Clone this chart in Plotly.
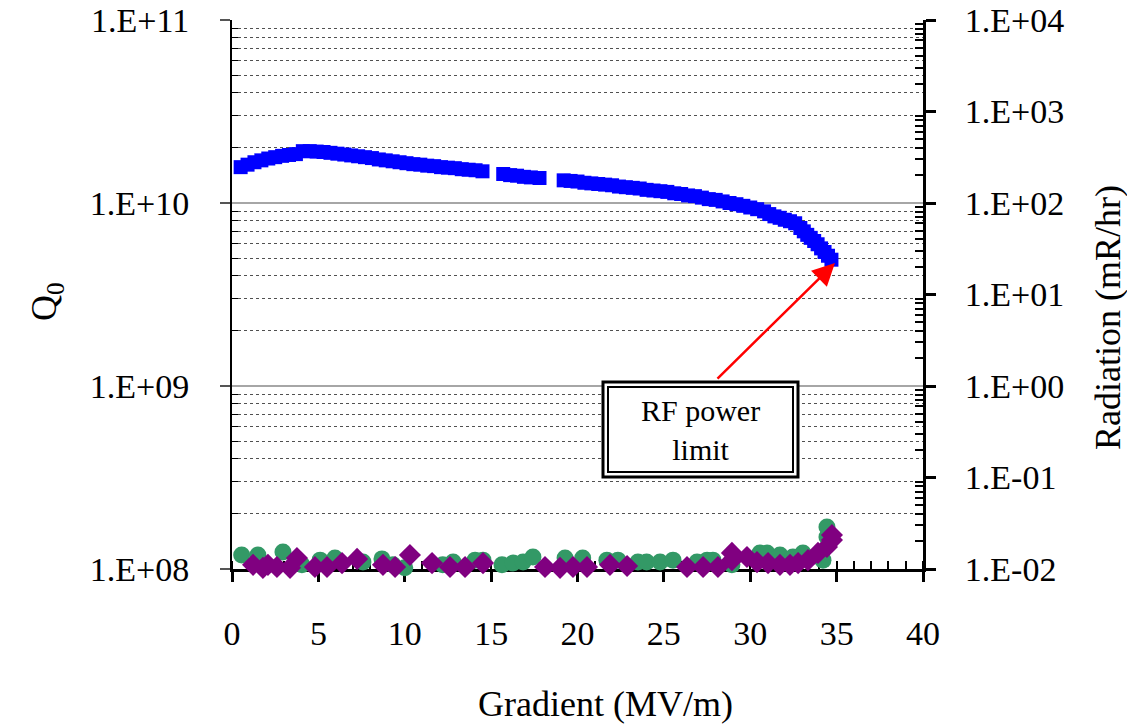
import plotly.graph_objects as go

# ---------------- data ----------------
gradient_q0 = [0.5, 0.9, 1.3, 1.7, 2.1, 2.5, 2.9, 3.3, 3.7, 4.1, 4.5, 4.9, 5.3, 5.7, 6.1, 6.5,
               6.9, 7.3, 7.7, 8.1, 8.5, 8.9, 9.3, 9.7, 10.1, 10.5, 10.9, 11.3, 11.7, 12.1, 12.5,
               12.9, 13.3, 13.7, 14.1, 14.5,
               15.7, 16.1, 16.5, 16.9, 17.3, 17.8,
               19.2, 19.6, 20.0, 20.4, 20.8, 21.2, 21.6, 22.0, 22.4, 22.8, 23.2, 23.6, 24.0,
               24.4, 24.8, 25.2, 25.6, 26.0, 26.4, 26.8, 27.2, 27.6, 28.0, 28.4, 28.8, 29.2,
               29.6, 30.0, 30.4, 30.8, 31.1, 31.4, 31.7, 32.0, 32.3, 32.6, 32.9, 33.1, 33.3,
               33.5, 33.7, 33.9, 34.1, 34.3, 34.5, 34.7]
q0_e10 = [1.57, 1.62, 1.67, 1.71, 1.75, 1.78, 1.81, 1.83, 1.85, 1.92, 1.92, 1.91, 1.90, 1.88,
          1.86, 1.84, 1.82, 1.80, 1.78, 1.76, 1.73, 1.71, 1.69, 1.67, 1.65, 1.63, 1.62, 1.60,
          1.59, 1.57, 1.56, 1.55, 1.53, 1.52, 1.51, 1.49,
          1.44, 1.42, 1.41, 1.39, 1.38, 1.37,
          1.33, 1.32, 1.31, 1.29, 1.28, 1.27, 1.26, 1.25, 1.23, 1.22, 1.21, 1.20, 1.18,
          1.17, 1.16, 1.15, 1.13, 1.12, 1.10, 1.09, 1.07, 1.05, 1.04, 1.02, 1.00, 0.985,
          0.965, 0.945, 0.925, 0.90, 0.87, 0.845, 0.83, 0.81, 0.795, 0.775, 0.73, 0.70, 0.67,
          0.645, 0.62, 0.595, 0.565, 0.54, 0.515, 0.49]

gradient_green = [0.56, 1.5, 2.95, 4.05, 5.1, 5.96, 7.58, 8.68, 9.32, 10.0, 12.2, 12.8, 14.07,
                  14.53, 15.63, 16.27, 16.85, 17.42, 19.28, 20.3, 21.7, 22.34, 23.5, 24.0, 24.78,
                  25.53, 26.92, 27.5, 27.84, 28.94, 30.56, 30.97, 31.72, 32.47, 33.05, 34.21,
                  34.44, 34.44]
rad_green = [0.0142, 0.0142, 0.0153, 0.0111, 0.0125, 0.0132, 0.0119, 0.0129, 0.0111, 0.0103,
             0.0111, 0.0119, 0.0125, 0.0125, 0.0111, 0.0116, 0.0119, 0.0135, 0.0132, 0.0132,
             0.0125, 0.0125, 0.0119, 0.0119, 0.0119, 0.0125, 0.0119, 0.0125, 0.0125, 0.0111,
             0.0150, 0.0150, 0.0142, 0.0135, 0.0150, 0.0125, 0.0224, 0.0288]

gradient_purple = [1.22, 1.79, 2.08, 2.6, 3.36, 3.76, 4.8, 5.5, 6.37, 7.24, 8.74, 9.44, 10.3,
                   11.58, 12.62, 13.49, 14.53, 18.12, 18.99, 19.74, 20.55, 21.88, 22.87, 26.34,
                   27.27, 28.13, 28.94, 28.94, 29.81, 30.39, 31.03, 31.72, 32.3, 32.77, 33.34,
                   33.92, 34.44, 34.73, 34.73]
rad_purple = [0.0111, 0.0103, 0.0111, 0.0105, 0.0103, 0.0132, 0.0105, 0.0105, 0.0116, 0.0129,
              0.0111, 0.0105, 0.0142, 0.0116, 0.0105, 0.0105, 0.0116, 0.0105, 0.0103, 0.0105,
              0.0105, 0.0111, 0.0108, 0.0105, 0.0105, 0.0105, 0.0150, 0.0125, 0.0135, 0.0119,
              0.0116, 0.0111, 0.0111, 0.0116, 0.0125, 0.0150, 0.0174, 0.0207, 0.0235]

q0_ticks = [1e8, 1e9, 1e10, 1e11]
q0_labels = ["1.E+08", "1.E+09", "1.E+10", "1.E+11"]
rad_ticks = [1e-2, 1e-1, 1e0, 1e1, 1e2, 1e3, 1e4]
rad_labels = ["1.E-02", "1.E-01", "1.E+00", "1.E+01", "1.E+02", "1.E+03", "1.E+04"]

# ---------------- layout helpers ----------------
W, H = 1127, 725
ML, MR, MT, MB = 232, 204, 20, 156
PW, PH = W - ML - MR, H - MT - MB


def px_x(X):
    return (X - ML) / PW


def px_y(Y):
    return 1 - (Y - MT) / PH


FONT = "Liberation Serif, Times New Roman, serif"
TICKSIZE = 34
TITLESIZE = 36

q0_values = [v * 1e10 for v in q0_e10]

fig = go.Figure()
fig.add_trace(go.Scatter(x=gradient_q0, y=q0_values, mode="markers", yaxis="y",
                         marker=dict(symbol="square", size=14, color="#0000FF",
                                     line=dict(width=0)),
                         showlegend=False))
fig.add_trace(go.Scatter(x=gradient_green, y=rad_green, mode="markers", yaxis="y2",
                         cliponaxis=False,
                         marker=dict(symbol="circle", size=17, color="#339966",
                                     line=dict(width=0)),
                         showlegend=False))
fig.add_trace(go.Scatter(x=gradient_purple, y=rad_purple, mode="markers", yaxis="y2",
                         cliponaxis=False,
                         marker=dict(symbol="diamond", size=17, color="#800080",
                                     line=dict(width=0)),
                         showlegend=False))

minor_q0 = [m * 10 ** e for e in range(8, 11) for m in range(2, 10)]
minor_rad = [m * 10.0 ** e for e in range(-2, 4) for m in range(2, 10)]

fig.update_layout(
    width=W, height=H,
    margin=dict(l=ML, r=MR, t=MT, b=MB, pad=0, autoexpand=False),
    paper_bgcolor="white", plot_bgcolor="white",
    font=dict(family=FONT, size=TICKSIZE, color="black"),
    xaxis=dict(range=[0, 40], tickmode="linear", tick0=0, dtick=5,
               automargin=False,
               showgrid=False, zeroline=False,
               showline=True, linecolor="black", linewidth=2.5,
               ticks="outside", ticklen=10, tickwidth=2.5, tickcolor="black",
               minor=dict(dtick=1, ticks="inside", ticklen=8, tickwidth=2, tickcolor="black"),
               ticklabelstandoff=22,
               tickfont=dict(family=FONT, size=TICKSIZE, color="black"),
               layer="below traces"),
    yaxis=dict(type="log", range=[8, 11], tickmode="array",
               tickvals=q0_ticks, ticktext=q0_labels,
               automargin=False,
               showgrid=True, gridcolor="#a6a6a6", gridwidth=2,
               zeroline=False,
               showline=True, linecolor="black", linewidth=2,
               ticks="outside", ticklen=10, tickwidth=2, tickcolor="#555555",
               minor=dict(tickmode="array", tickvals=minor_q0, ticks="inside",
                          ticklen=6, tickwidth=1, tickcolor="black",
                          showgrid=True, gridcolor="#505050", griddash="dot", gridwidth=1),
               ticklabelstandoff=24,
               tickfont=dict(family=FONT, size=TICKSIZE, color="black"),
               layer="below traces"),
    yaxis2=dict(type="log", range=[-2, 4], overlaying="y", side="right",
                tickmode="array", tickvals=rad_ticks, ticktext=rad_labels,
                automargin=False,
                showgrid=False, zeroline=False,
                showline=True, linecolor="black", linewidth=3,
                ticks="outside", ticklen=10, tickwidth=2.5, tickcolor="black",
                minor=dict(tickmode="array", tickvals=minor_rad, ticks="inside",
                           ticklen=8, tickwidth=2, tickcolor="black", showgrid=False),
                ticklabelstandoff=22,
                tickfont=dict(family=FONT, size=TICKSIZE, color="black"),
                layer="below traces"),
)

# axis titles
fig.add_annotation(text="Gradient (MV/m)", xref="paper", yref="paper",
                   x=px_x(605), y=px_y(704), xanchor="center", yanchor="middle",
                   showarrow=False, font=dict(family=FONT, size=TITLESIZE, color="black"))
fig.add_annotation(text="Q<sub>0</sub>", xref="paper", yref="paper",
                   x=px_x(46), y=px_y(302), xanchor="center", yanchor="middle",
                   textangle=-90, showarrow=False,
                   font=dict(family=FONT, size=TITLESIZE, color="black"))
fig.add_annotation(text="Radiation (mR/hr)", xref="paper", yref="paper",
                   x=px_x(1108), y=px_y(318), xanchor="center", yanchor="middle",
                   textangle=-90, showarrow=False,
                   font=dict(family=FONT, size=TITLESIZE, color="black"))

# double-bordered callout box
fig.add_shape(type="rect", xref="paper", yref="paper",
              x0=px_x(603), x1=px_x(798), y0=px_y(477), y1=px_y(382),
              line=dict(color="black", width=3), fillcolor="white", layer="above")
fig.add_shape(type="rect", xref="paper", yref="paper",
              x0=px_x(608), x1=px_x(793), y0=px_y(472), y1=px_y(387),
              line=dict(color="black", width=2), fillcolor="white", layer="above")
fig.add_annotation(text="RF power<br>limit", xref="paper", yref="paper",
                   x=px_x(700.5), y=px_y(430), xanchor="center", yanchor="middle",
                   showarrow=False, font=dict(family=FONT, size=30, color="black"))
# red arrow
fig.add_annotation(text="", xref="paper", yref="paper",
                   x=px_x(835), y=px_y(263), ax=-119, ay=117,
                   showarrow=True, arrowhead=2, arrowsize=1.8, arrowwidth=2.5,
                   arrowcolor="#FF0000", standoff=0, startstandoff=0)

fig.write_html("out.html")
